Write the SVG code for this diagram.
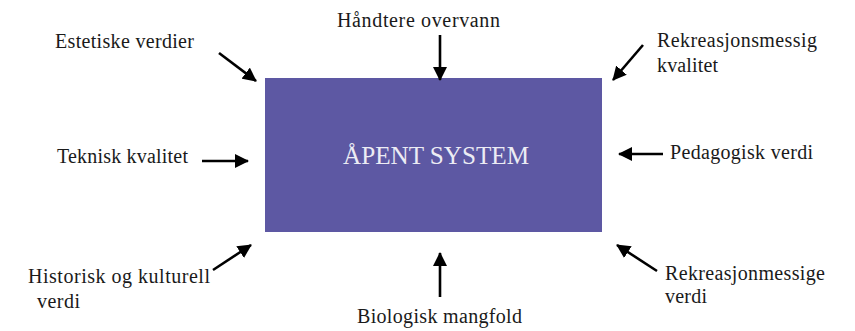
<svg xmlns="http://www.w3.org/2000/svg" width="855" height="331" viewBox="0 0 855 331">
<style>
.t{font-family:"Liberation Serif","Times New Roman",serif;font-size:20px;fill:#1a1a1a}
.c{stroke:#000;stroke-width:2.6;fill:none;marker-end:url(#ah)}
</style>
<defs>
<marker id="ah" markerUnits="userSpaceOnUse" markerWidth="14" markerHeight="14" viewBox="0 0 14 14" refX="13" refY="7" orient="auto">
<path d="M0,0 L14,7 L0,14 Z" fill="#000"/>
</marker>
</defs>
<rect width="855" height="331" fill="#fff"/>
<g id="main">
<rect x="265" y="78" width="337" height="154" fill="#5d58a3"/>
<text x="343" y="164" textLength="186" lengthAdjust="spacingAndGlyphs" style="font-family:'Liberation Serif','Times New Roman',serif;font-size:25px;fill:#ececf4">ÅPENT SYSTEM</text>
</g>
<g id="n-estetiske"><text class="t" x="55" y="48" textLength="139">Estetiske verdier</text></g>
<g id="n-handtere"><text class="t" x="337" y="27" textLength="163">Håndtere overvann</text></g>
<g id="n-rekreasjonsmessig"><text class="t" x="657" y="47" textLength="160">Rekreasjonsmessig</text><text class="t" x="657" y="72" textLength="61">kvalitet</text></g>
<g id="n-teknisk"><text class="t" x="57" y="163" textLength="131">Teknisk kvalitet</text></g>
<g id="n-pedagogisk"><text class="t" x="670" y="159" textLength="143">Pedagogisk verdi</text></g>
<g id="n-historisk"><text class="t" x="28" y="283" textLength="182">Historisk og kulturell</text><text class="t" x="37" y="308" textLength="43">verdi</text></g>
<g id="n-biologisk"><text class="t" x="357" y="323" textLength="165">Biologisk mangfold</text></g>
<g id="n-rekreasjonmessige"><text class="t" x="665" y="280" textLength="160">Rekreasjonmessige</text><text class="t" x="665" y="303" textLength="42">verdi</text></g>
<g id="connectors">
<line class="c" x1="219" y1="53" x2="256" y2="81"/>
<line class="c" x1="440" y1="35" x2="440" y2="80"/>
<line class="c" x1="643" y1="45" x2="613" y2="80"/>
<line class="c" x1="202" y1="161" x2="248" y2="161"/>
<line class="c" x1="663" y1="154" x2="619" y2="154"/>
<line class="c" x1="213" y1="270" x2="251" y2="245"/>
<line class="c" x1="440" y1="297" x2="440" y2="253"/>
<line class="c" x1="657" y1="271" x2="617" y2="245"/>
</g>
</svg>
